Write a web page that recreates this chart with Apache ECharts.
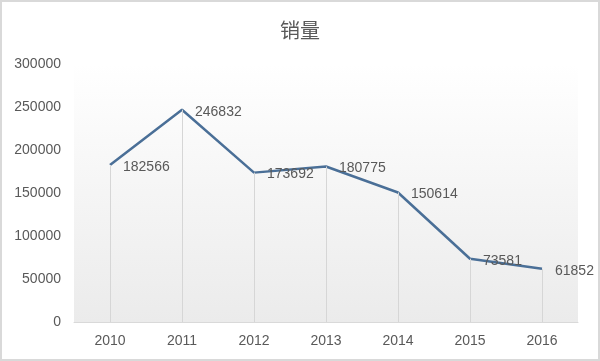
<!DOCTYPE html>
<html><head><meta charset="utf-8">
<script src="https://cdn.jsdelivr.net/npm/echarts@6/dist/echarts.min.js"></script>
<style>html,body{margin:0;padding:0;background:#fff}#c{width:600px;height:361px;box-sizing:border-box;border:2px solid #d9d9d9}</style>
</head><body><div id="c"></div>
<script>
const titleText = '销量';
const categories = ['2010','2011','2012','2013','2014','2015','2016'];
const sales = [182566, 246832, 173692, 180775, 150614, 73581, 61852];
const yTicks = {min: 0, max: 300000, interval: 50000};

const chart = echarts.init(document.getElementById('c'));
const dropLines = sales.map((v, i) => [{coord: [i, 0]}, {coord: [i, v]}]);
chart.setOption({
  animation: false,
  title: {text: titleText, left: 'center', top: 13,
    textStyle: {fontSize: 20, fontWeight: 'normal', color: '#595959', fontFamily: 'Noto Sans CJK SC'}},
  grid: {left: 72, right: 20, top: 62, bottom: 37, show: true, borderWidth: 0,
    backgroundColor: new echarts.graphic.LinearGradient(0, 0, 0, 1, [
      {offset: 0, color: '#ffffff'}, {offset: 1, color: '#ebebeb'}])},
  xAxis: {type: 'category', data: categories, boundaryGap: true,
    axisLine: {lineStyle: {color: '#d9d9d9', width: 1}}, axisTick: {show: false},
    axisLabel: {color: '#595959', fontSize: 14, margin: 12, fontFamily: 'Liberation Sans'}},
  yAxis: {type: 'value', min: yTicks.min, max: yTicks.max, interval: yTicks.interval,
    axisLine: {show: false}, axisTick: {show: false}, splitLine: {show: false},
    axisLabel: {color: '#595959', fontSize: 14, margin: 13, fontFamily: 'Liberation Sans',
      formatter: v => String(v)}},
  series: [{
    type: 'line', data: sales, symbol: 'circle', symbolSize: 2, showSymbol: true,
    itemStyle: {color: 'rgba(0,0,0,0)', borderWidth: 0},
    lineStyle: {color: '#4a6f97', width: 2.5},
    label: {show: true, position: 'right', distance: 12, offset: [0, 2], color: '#595959', fontSize: 14, fontFamily: 'Liberation Sans'},
    markLine: {silent: true, symbol: 'none', label: {show: false},
      lineStyle: {color: '#d6d6d6', width: 1, type: 'solid'}, data: dropLines}
  }]
});
</script></body></html>
